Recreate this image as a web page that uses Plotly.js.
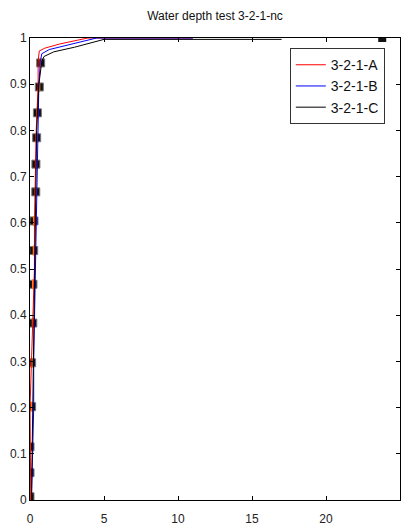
<!DOCTYPE html>
<html><head><meta charset="utf-8">
<script src="https://cdn.plot.ly/plotly-3.0.1.min.js"></script>
<style>html,body{margin:0;padding:0;background:#fff}#plot{width:406px;height:529px}</style>
</head><body><div id="plot"></div>
<script>
const redY  = [0, 0.1, 0.2, 0.3, 0.4, 0.5, 0.6, 0.7, 0.8, 0.9, 0.95, 0.972, 0.978, 0.987, 1.0, 1.0];
const redX  = [0.05, 0.05, 0.0, 0.1, 0.18, 0.3, 0.3, 0.35, 0.42, 0.55, 0.55, 0.63, 1.0, 2.0, 3.9, 11];
const blueY = [0, 0.1, 0.2, 0.3, 0.4, 0.5, 0.6, 0.7, 0.8, 0.9, 0.95, 0.966, 0.975, 0.985, 1.0, 1.0];
const blueX = [0.1, 0.2, 0.25, 0.25, 0.3, 0.35, 0.4, 0.45, 0.5, 0.6, 0.7, 0.8, 1.3, 2.5, 4.5, 11];
const blackY = [0, 0.1, 0.2, 0.3, 0.4, 0.5, 0.6, 0.7, 0.8, 0.9, 0.95, 0.96, 0.97, 0.98, 0.997, 0.997];
const blackX = [0.1, 0.15, 0.2, 0.2, 0.25, 0.3, 0.35, 0.4, 0.45, 0.6, 0.8, 0.95, 1.6, 3.0, 5.0, 17];
const obsY = [0.007, 0.059, 0.115, 0.202, 0.297, 0.383, 0.467, 0.54, 0.604, 0.667, 0.727, 0.784, 0.838, 0.894, 0.946];
const obsX = [0.0, 0.0, 0.0, 0.11, 0.11, 0.19, 0.2, 0.25, 0.27, 0.39, 0.4, 0.45, 0.5, 0.63, 0.72];
const endX = [23.8];
const endY = [1.0];
const names = ['3-2-1-A', '3-2-1-B', '3-2-1-C'];
const xTicks = [0, 5, 10, 15, 20, 25];
const yTicks = [0, 0.1, 0.2, 0.3, 0.4, 0.5, 0.6, 0.7, 0.8, 0.9, 1];

const font = 'Liberation Sans Narrow, Arial Narrow, Liberation Sans, Arial, sans-serif';
const traces = [
  {x: obsX, y: obsY, mode: 'markers', showlegend: false, hoverinfo: 'skip',
   marker: {symbol: 'square', size: 8, color: '#111', line: {color: '#777', width: 1}}},
  {x: obsX, y: obsY, mode: 'markers', showlegend: false, hoverinfo: 'skip',
   marker: {symbol: 'line-ns-open', size: 7, line: {color: '#3cc', width: 2}}},
  {x: redX, y: redY, mode: 'lines', name: names[0], line: {color: '#ff0000', width: 1}},
  {x: blueX, y: blueY, mode: 'lines', name: names[1], line: {color: '#0000ff', width: 1}},
  {x: blackX, y: blackY, mode: 'lines', name: names[2], line: {color: '#000000', width: 1}},
  {x: endX, y: endY, mode: 'markers', showlegend: false, hoverinfo: 'skip',
   marker: {symbol: 'square', size: 8, color: '#111', line: {color: '#fff', width: 0}}}
];
const axisCommon = {showgrid: false, zeroline: false, showline: true, linecolor: '#000', linewidth: 1,
  mirror: 'ticks', ticks: 'inside', ticklen: 4, tickcolor: '#000',
  tickfont: {family: font, size: 12, color: '#222'}};
const layout = {
  width: 406, height: 529,
  margin: {l: 30, r: 6, t: 38, b: 29},
  paper_bgcolor: '#fff', plot_bgcolor: '#fff',
  title: {text: 'Water depth test 3-2-1-nc', font: {family: font, size: 12, color: '#111'},
          x: 0.5, xanchor: 'center', y: 0.971, yanchor: 'middle', xref: 'paper'},
  xaxis: Object.assign({}, axisCommon, {range: [0, 25], tickvals: xTicks, ticktext: xTicks.map(String),
          ticklabelstandoff: 8}),
  yaxis: Object.assign({}, axisCommon, {range: [0, 1], tickvals: yTicks, ticktext: yTicks.map(String)}),
  legend: {x: 0.959, xanchor: 'right', y: 0.978, yanchor: 'top', bgcolor: '#fff',
           bordercolor: '#333', borderwidth: 1, font: {family: font, size: 14, color: '#111'},
           tracegroupgap: 0, itemwidth: 30},
  showlegend: true
};
Plotly.newPlot('plot', traces, layout, {staticPlot: true, displayModeBar: false});
</script></body></html>
